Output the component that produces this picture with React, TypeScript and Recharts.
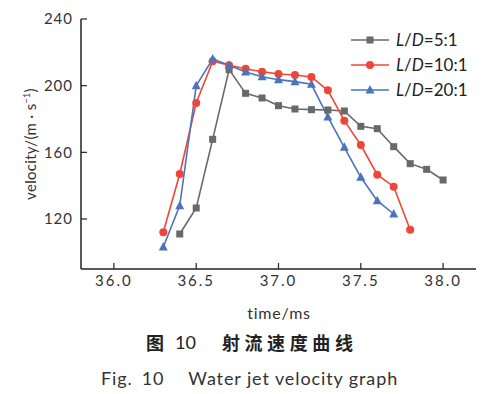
import React from 'react';
import { LineChart, Line, XAxis, YAxis } from 'recharts';

const times5 = [36.4, 36.5, 36.6, 36.7, 36.8, 36.9, 37.0, 37.1, 37.2, 37.3, 37.4, 37.5, 37.6, 37.7, 37.8, 37.9, 38.0];
const vel5 = [111, 126.6, 167.8, 209.6, 195.4, 192.6, 188, 186, 185.6, 185.4, 184.8, 175.6, 174.2, 163.4, 153.2, 149.8, 143.4];

const times10 = [36.3, 36.4, 36.5, 36.6, 36.7, 36.8, 36.9, 37.0, 37.1, 37.2, 37.3, 37.4, 37.5, 37.6, 37.7, 37.8];
const vel10 = [112, 147, 189.6, 214.6, 212.2, 210.2, 208.4, 207, 206.4, 205.2, 197.2, 179, 164.4, 146.6, 139.4, 113.6];

const times20 = [36.3, 36.4, 36.5, 36.6, 36.7, 36.8, 36.9, 37.0, 37.1, 37.2, 37.3, 37.4, 37.5, 37.6, 37.7];
const vel20 = [103.2, 128, 200, 216, 212.2, 208.2, 205.4, 203.6, 202.4, 200.8, 181.2, 163, 145, 131, 123];

const xTicks = [36.0, 36.5, 37.0, 37.5, 38.0];
const yTicks = [120, 160, 200, 240];

const seriesNames = ['5:1', '10:1', '20:1'];
const colors = ['#696969', '#ee4638', '#4a74bb'];

const toRows = (ts: number[], vs: number[]) => ts.map((t, i) => ({ t, v: vs[i] }));
const data5 = toRows(times5, vel5);
const data10 = toRows(times10, vel10);
const data20 = toRows(times20, vel20);

const SquareDot = (props: any) => {
  const { cx, cy } = props;
  if (cx == null || cy == null) return null;
  return <rect x={cx - 3.5} y={cy - 3.5} width={7} height={7} fill={colors[0]} />;
};
const CircleDot = (props: any) => {
  const { cx, cy } = props;
  if (cx == null || cy == null) return null;
  return <circle cx={cx} cy={cy} r={4} fill={colors[1]} />;
};
const TriDot = (props: any) => {
  const { cx, cy } = props;
  if (cx == null || cy == null) return null;
  return <polygon points={`${cx},${cy - 5} ${cx - 4.5},${cy + 3.5} ${cx + 4.5},${cy + 3.5}`} fill={colors[2]} />;
};

const font = 'Lato, "Open Sans", sans-serif';

const LegendIcon = ({ idx }: { idx: number }) => (
  <svg width={38} height={12} style={{ display: 'block' }}>
    <line x1={0} y1={6} x2={38} y2={6} stroke={colors[idx]} strokeWidth={1.6} />
    {idx === 0 && <rect x={15.5} y={2.5} width={7} height={7} fill={colors[0]} />}
    {idx === 1 && <circle cx={19} cy={6} r={4} fill={colors[1]} />}
    {idx === 2 && <polygon points="19,1 14.5,9.5 23.5,9.5" fill={colors[2]} />}
  </svg>
);

export default function App() {
  return (
    <div style={{ position: 'absolute', left: 0, top: 0, width: 500, height: 394, background: '#fff', fontFamily: font }}>
      <LineChart width={500} height={300} margin={{ top: 19, right: 24, left: 0, bottom: 0 }}>
        <XAxis
          xAxisId="bottom"
          type="number"
          dataKey="t"
          domain={[35.8, 38.2]}
          ticks={xTicks}
          tickFormatter={(v: number) => v.toFixed(1)}
          height={31}
          axisLine={{ stroke: '#222', strokeWidth: 1.5 }}
          tickLine={{ stroke: '#222', strokeWidth: 1.2 }}
          tickSize={-6}
          tickMargin={12}
          tick={{ fill: '#333', fontSize: 15, fontFamily: font, letterSpacing: 2 }}
          allowDuplicatedCategory={false}
        />
        <XAxis xAxisId="top" type="number" dataKey="t" domain={[35.8, 38.2]} orientation="top" height={0} tick={false} tickLine={false} axisLine={{ stroke: '#222', strokeWidth: 1.5 }} />
        <YAxis
          yAxisId="left"
          type="number"
          domain={[90, 240]}
          ticks={yTicks}
          width={81}
          axisLine={{ stroke: '#222', strokeWidth: 1.5 }}
          tickLine={{ stroke: '#222', strokeWidth: 1.2 }}
          tickSize={-6}
          tickMargin={14}
          tick={{ fill: '#333', fontSize: 15, fontFamily: font, letterSpacing: 1 }}
        />
        <YAxis yAxisId="right" type="number" domain={[90, 240]} orientation="right" width={0} tick={false} tickLine={false} axisLine={{ stroke: '#222', strokeWidth: 1.5 }} />
        <Line xAxisId="bottom" yAxisId="left" data={data5} dataKey="v" stroke={colors[0]} strokeWidth={1.6} dot={<SquareDot />} isAnimationActive={false} />
        <Line xAxisId="bottom" yAxisId="left" data={data10} dataKey="v" stroke={colors[1]} strokeWidth={1.6} dot={<CircleDot />} isAnimationActive={false} />
        <Line xAxisId="bottom" yAxisId="left" data={data20} dataKey="v" stroke={colors[2]} strokeWidth={1.6} dot={<TriDot />} isAnimationActive={false} />
      </LineChart>

      <div style={{ position: 'absolute', left: 351, top: 27, color: '#222', fontSize: 17 }}>
        {seriesNames.map((n, i) => (
          <div key={n} style={{ display: 'flex', alignItems: 'center', height: 25 }}>
            <LegendIcon idx={i} />
            <span style={{ marginLeft: 7, whiteSpace: 'nowrap' }}>
              <i>L</i>/<i>D</i>={n}
            </span>
          </div>
        ))}
      </div>

      <div style={{ position: 'absolute', left: 30, top: 144, transform: 'translate(-50%, -50%) rotate(-90deg)', whiteSpace: 'nowrap', fontSize: 15, color: '#333', letterSpacing: 0.3 }}>
        velocity/(m · s<sup style={{ fontSize: 9 }}>−1</sup>)
      </div>

      <div style={{ position: 'absolute', left: 279, top: 312, transform: 'translate(-50%, -50%)', whiteSpace: 'nowrap', fontSize: 16, color: '#333', letterSpacing: 0.8 }}>
        time/ms
      </div>

      <div style={{ position: 'absolute', left: 146, top: 342, transform: 'translateY(-50%)', whiteSpace: 'nowrap', fontSize: 18, color: '#222', fontFamily: '"Noto Sans CJK SC", sans-serif', display: 'flex', alignItems: 'center' }}>
        <span style={{ fontWeight: 700 }}>图</span>
        <span style={{ marginLeft: 11, fontFamily: font, fontWeight: 400 }}>10</span>
        <span style={{ marginLeft: 26, fontWeight: 700, letterSpacing: 4.6 }}>射流速度曲线</span>
      </div>

      <div style={{ position: 'absolute', left: 101, top: 378, transform: 'translateY(-50%)', whiteSpace: 'nowrap', fontSize: 18, color: '#333', letterSpacing: 0.9, display: 'flex' }}>
        <span>Fig.</span>
        <span style={{ marginLeft: 9 }}>10</span>
        <span style={{ marginLeft: 24 }}>Water jet velocity graph</span>
      </div>
    </div>
  );
}
